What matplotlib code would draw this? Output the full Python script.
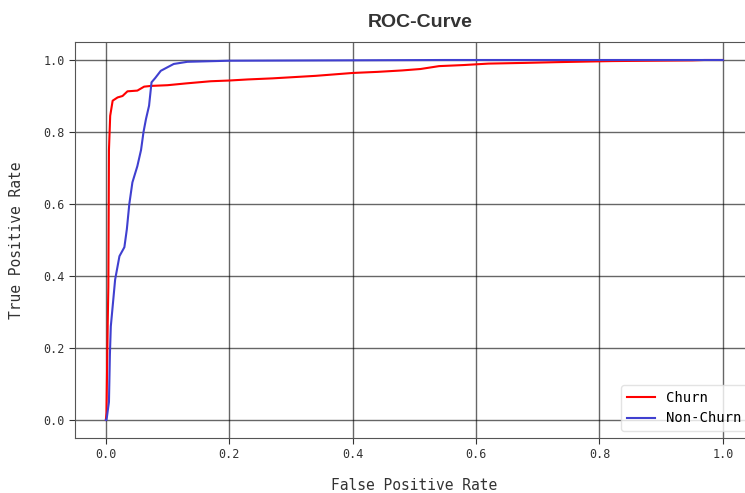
import matplotlib.pyplot as plt

# ROC points
churn_fpr = [0.0, 0.001, 0.003, 0.004, 0.005, 0.007, 0.011, 0.019, 0.027, 0.035,
             0.051, 0.062, 0.073, 0.10, 0.13, 0.17, 0.2, 0.23, 0.27, 0.30,
             0.34, 0.37, 0.40, 0.44, 0.48, 0.51, 0.54, 0.58, 0.62, 0.68,
             0.73, 0.82, 0.95, 0.97, 1.0]
churn_tpr = [0.0, 0.02, 0.27, 0.37, 0.75, 0.845, 0.887, 0.896, 0.90, 0.913,
             0.915, 0.926, 0.928, 0.930, 0.935, 0.941, 0.943, 0.946, 0.949, 0.952,
             0.956, 0.960, 0.964, 0.967, 0.971, 0.975, 0.983, 0.986, 0.99, 0.992,
             0.994, 0.997, 0.999, 1.0, 1.0]

nonchurn_fpr = [0.0, 0.001, 0.005, 0.0065, 0.008, 0.012, 0.015, 0.022, 0.03, 0.034, 0.038,
                0.043, 0.051, 0.057, 0.061, 0.065, 0.07, 0.074, 0.08, 0.089, 0.10, 0.11,
                0.132, 0.2, 0.55, 1.0]
nonchurn_tpr = [0.0, 0.0, 0.05, 0.18, 0.26, 0.334, 0.39, 0.455, 0.48, 0.53, 0.60,
                0.66, 0.705, 0.75, 0.80, 0.836, 0.873, 0.938, 0.95, 0.97, 0.98, 0.989,
                0.995, 0.998, 1.0, 1.0]

mono = 'DejaVu Sans Mono'

fig = plt.figure(figsize=(7.45, 4.93), dpi=100)
ax = fig.add_axes([0.1007, 0.1116, 0.911, 0.8032])

ax.plot(churn_fpr, churn_tpr, color='red', lw=1.5, label='Churn')
ax.plot(nonchurn_fpr, nonchurn_tpr, color='#4040d0', lw=1.5, label='Non-Churn')

ax.grid(True, color='black', alpha=0.6, lw=1)
for s in ax.spines.values():
    s.set_color('#555555')
ax.tick_params(colors='#333333', labelsize=8.5, length=4)
for lbl in ax.get_xticklabels() + ax.get_yticklabels():
    lbl.set_family(mono)

ax.set_xlabel('False Positive Rate', family=mono, fontsize=10.5, color='#333333', labelpad=12)
ax.set_ylabel('True Positive Rate', family=mono, fontsize=10.5, color='#333333', labelpad=14)
fig.text(0.5638, 0.955, 'ROC-Curve', family='Liberation Sans', fontsize=14,
         fontweight='bold', color='#333333', ha='center', va='center')

leg = ax.legend(loc='lower right', prop={'family': mono, 'size': 10})
leg.get_frame().set_edgecolor('#dddddd')

fig.savefig('out.png', dpi=100)
